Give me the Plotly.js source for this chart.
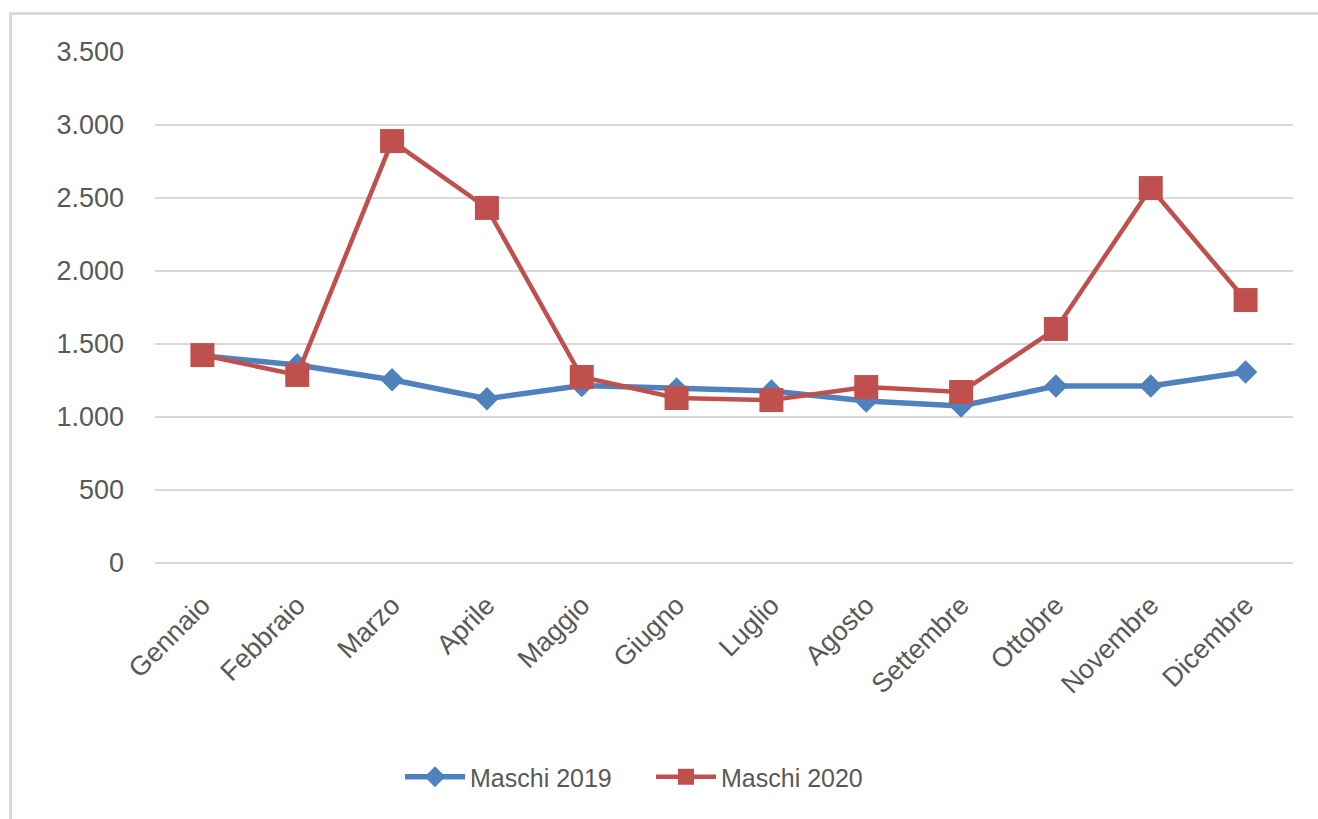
<!DOCTYPE html>
<html>
<head>
<meta charset="utf-8">
<script src="https://cdn.plot.ly/plotly-3.0.1.min.js"></script>
<style>
  html, body { margin: 0; padding: 0; background: #ffffff; }
  #frame { position: absolute; left: 9px; top: 12px; width: 1400px; height: 900px;
           border-left: 3px solid #d9d9d9; border-top: 3px solid #d9d9d9; z-index: 0; }
  #chart { position: absolute; left: 0; top: 0; width: 1318px; height: 819px; z-index: 1; }
</style>
</head>
<body>
<div id="frame"></div>
<div id="chart"></div>
<script>
const months = ["Gennaio", "Febbraio", "Marzo", "Aprile", "Maggio", "Giugno",
                "Luglio", "Agosto", "Settembre", "Ottobre", "Novembre", "Dicembre"];
const maschi2019 = [1420, 1356, 1255, 1125, 1215, 1192, 1178, 1110, 1075, 1212, 1212, 1308];
const maschi2020 = [1424, 1288, 2890, 2432, 1274, 1130, 1116, 1205, 1171, 1603, 2568, 1801];
const seriesNames = ["Maschi 2019", "Maschi 2020"];

const fontFam = "Liberation Sans, Arial, sans-serif";
const textColor = "#595959";

const traces = [
  {
    x: months, y: maschi2019, name: seriesNames[0], type: "scatter", mode: "lines+markers",
    line: { color: "#4f81bd", width: 5.5 },
    marker: { symbol: "diamond", size: 18, color: "#4f81bd" },
    legend: "legend"
  },
  {
    x: months, y: maschi2020, name: seriesNames[1], type: "scatter", mode: "lines+markers",
    line: { color: "#c0504d", width: 4.5 },
    marker: { symbol: "square", size: 24, color: "#c0504d" },
    legend: "legend2"
  }
];

const legendFont = { family: fontFam, size: 25, color: textColor };
const plotW = 1318 - 155 - 25;
function px2paperX(px) { return (px - 155) / plotW; }
function px2paperY(py) { return (563 - py) / 511; }

const layout = {
  width: 1318, height: 819,
  margin: { l: 155, r: 25, t: 52, b: 256 },
  paper_bgcolor: "rgba(0,0,0,0)",
  plot_bgcolor: "rgba(0,0,0,0)",
  separators: ",.",
  font: { family: fontFam, size: 25, color: textColor },
  xaxis: {
    type: "category",
    range: [-0.5, 11.5],
    tickangle: -45,
    showgrid: false, zeroline: false, showline: false,
    ticks: "",
    ticklabelstandoff: 20,
    tickfont: { family: fontFam, size: 27, color: textColor }
  },
  yaxis: {
    range: [0, 3500],
    dtick: 500,
    tickformat: ",d",
    showgrid: true, gridcolor: "#d9d9d9", gridwidth: 1.5,
    zeroline: true, zerolinecolor: "#d9d9d9", zerolinewidth: 1.5,
    showline: false, ticks: "",
    ticklabelstandoff: 30,
    tickfont: { family: fontFam, size: 27, color: textColor }
  },
  showlegend: true,
  legend: {
    orientation: "h",
    x: px2paperX(400), xanchor: "left",
    y: px2paperY(777), yanchor: "middle",
    font: legendFont,
    itemwidth: 60
  },
  legend2: {
    orientation: "h",
    x: px2paperX(651), xanchor: "left",
    y: px2paperY(777), yanchor: "middle",
    font: legendFont,
    itemwidth: 60
  }
};

Plotly.newPlot("chart", traces, layout, { displayModeBar: false, staticPlot: true });
</script>
</body>
</html>
